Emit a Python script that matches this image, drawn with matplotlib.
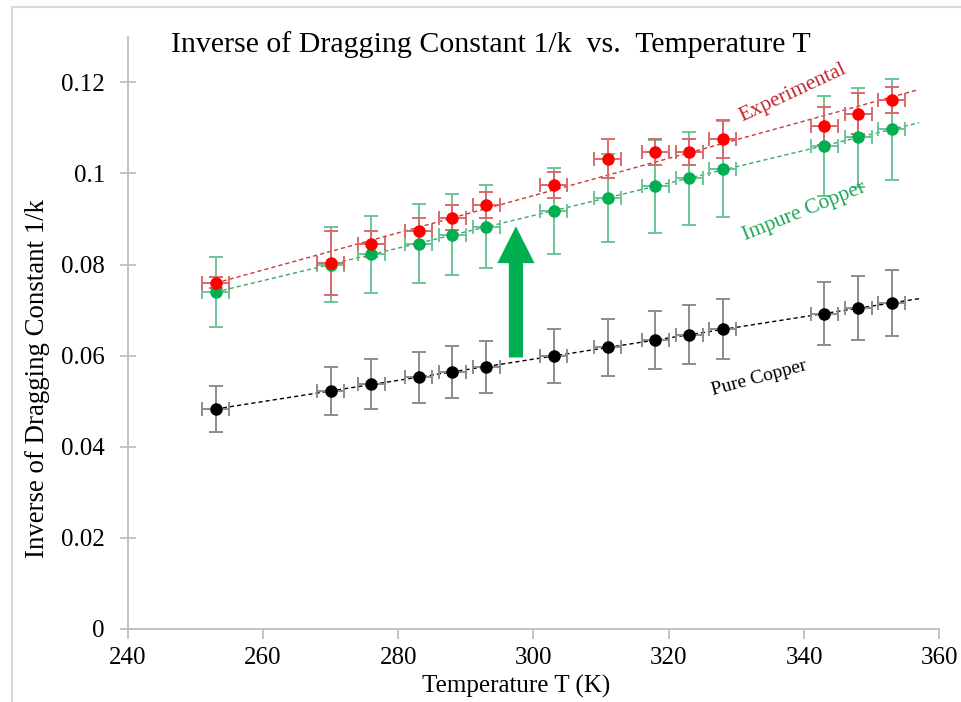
import numpy as np
import matplotlib
matplotlib.use("Agg")
import matplotlib.pyplot as plt
from matplotlib.patches import Rectangle

plt.rcParams['font.family'] = ['Liberation Serif', 'DejaVu Serif']

temperature = [253, 270, 276, 283, 288, 293, 303, 311, 318, 323, 328, 343, 348, 353]
temp_err = [2] * len(temperature)

experimental = [0.0760, 0.0803, 0.0845, 0.0874, 0.0903, 0.0930, 0.0974, 0.1032,
                0.1047, 0.1047, 0.1075, 0.1104, 0.1131, 0.1161]
experimental_err = [0.0012, 0.0071, 0.0029, 0.0029, 0.0028, 0.0029, 0.0029, 0.0043,
                    0.0029, 0.0029, 0.0042, 0.0042, 0.0045, 0.0029]

impure = [0.0740, 0.0800, 0.0822, 0.0846, 0.0865, 0.0883, 0.0918, 0.0946,
          0.0972, 0.0989, 0.1009, 0.1060, 0.1079, 0.1097]
impure_err = [0.0077, 0.0083, 0.0085, 0.0087, 0.0089, 0.0091, 0.0094, 0.0097,
              0.0102, 0.0102, 0.0105, 0.0109, 0.0109, 0.0111]

pure = [0.0483, 0.0522, 0.0537, 0.0553, 0.0565, 0.0575, 0.0599, 0.0618,
        0.0634, 0.0646, 0.0658, 0.0692, 0.0704, 0.0716]
pure_err = [0.0050, 0.0053, 0.0055, 0.0056, 0.0057, 0.0058, 0.0060, 0.0062,
            0.0063, 0.0065, 0.0066, 0.0069, 0.0070, 0.0072]

x_ticks = [240, 260, 280, 300, 320, 340, 360]
y_ticks = [0, 0.02, 0.04, 0.06, 0.08, 0.1, 0.12]
y_ticklabels = ["0", "0.02", "0.04", "0.06", "0.08", "0.1", "0.12"]

fig = plt.figure(figsize=(9.61, 7.02), dpi=100)
ax = fig.add_axes([0.1329, 0.104, 0.8445, 0.8437])

# light frame around the chart area like the excel export
fig.patches.append(Rectangle((12 / 961, -0.01), 1.0, 1 - 7 / 702 + 0.01,
                             transform=fig.transFigure, fill=False,
                             edgecolor='#d9d9d9', linewidth=1.5))

series = [
    (pure, pure_err, 'black', '#8c8c8c', 'black'),
    (impure, impure_err, '#00b050', '#6cc497', '#3aa86a'),
    (experimental, experimental_err, '#ff0000', '#d86a6a', '#d03535'),
]

T = np.array(temperature)
for vals, errs, mcolor, ecolor, lcolor in series:
    fit = np.polyfit(T, vals, 1)
    xs = np.array([T[0], 357])
    ax.plot(xs, np.polyval(fit, xs), linestyle=(0, (3, 2.2)), color=lcolor,
            linewidth=1.0, zorder=2)
    ax.errorbar(temperature, vals, xerr=temp_err, yerr=errs, fmt='o',
                color=mcolor, markersize=8, ecolor=ecolor, elinewidth=1.4,
                capsize=5, capthick=1.4, zorder=3)

ax.text(338.3, 0.1176, "Experimental", color='#c0282d', fontsize=15.5,
        rotation=25, ha='center', va='center')
ax.text(340.0, 0.0915, "Impure Copper", color='#1ea65a', fontsize=15.5,
        rotation=22, ha='center', va='center')
ax.text(333.3, 0.0550, "Pure Copper", color='black', fontsize=14,
        rotation=15, ha='center', va='center')

ax.arrow(297.4, 0.0596, 0, 0.0207, width=2.1, head_width=5.5,
         head_length=0.0081, length_includes_head=False,
         color='#00b050', linewidth=0, zorder=4)

ax.set_xlim(240, 360)
ax.set_ylim(0, 0.13)
ax.set_xticks(x_ticks)
ax.set_yticks(y_ticks)
ax.set_yticklabels(y_ticklabels)

for side in ['top', 'right']:
    ax.spines[side].set_visible(False)
for side in ['left', 'bottom']:
    ax.spines[side].set_color('#bfbfbf')
    ax.spines[side].set_linewidth(1.3)

ax.tick_params(axis='y', direction='inout', length=11, width=1.3,
               color='#bfbfbf', labelsize=18, pad=11)
ax.tick_params(axis='x', direction='out', length=7, width=1.3,
               color='#bfbfbf', labelsize=18, pad=6)

ax.set_title("Inverse of Dragging Constant 1/k  vs.  Temperature T",
             fontsize=21.5, x=0.448, y=0.96)
ax.set_xlabel("Temperature T (K)", fontsize=18)
ax.set_ylabel("Inverse of Dragging Constant 1/k", fontsize=19.3)
ax.xaxis.set_label_coords(0.478, -0.077)
ax.yaxis.set_label_coords(-0.096, 0.423)

fig.savefig("out.png", dpi=100)
